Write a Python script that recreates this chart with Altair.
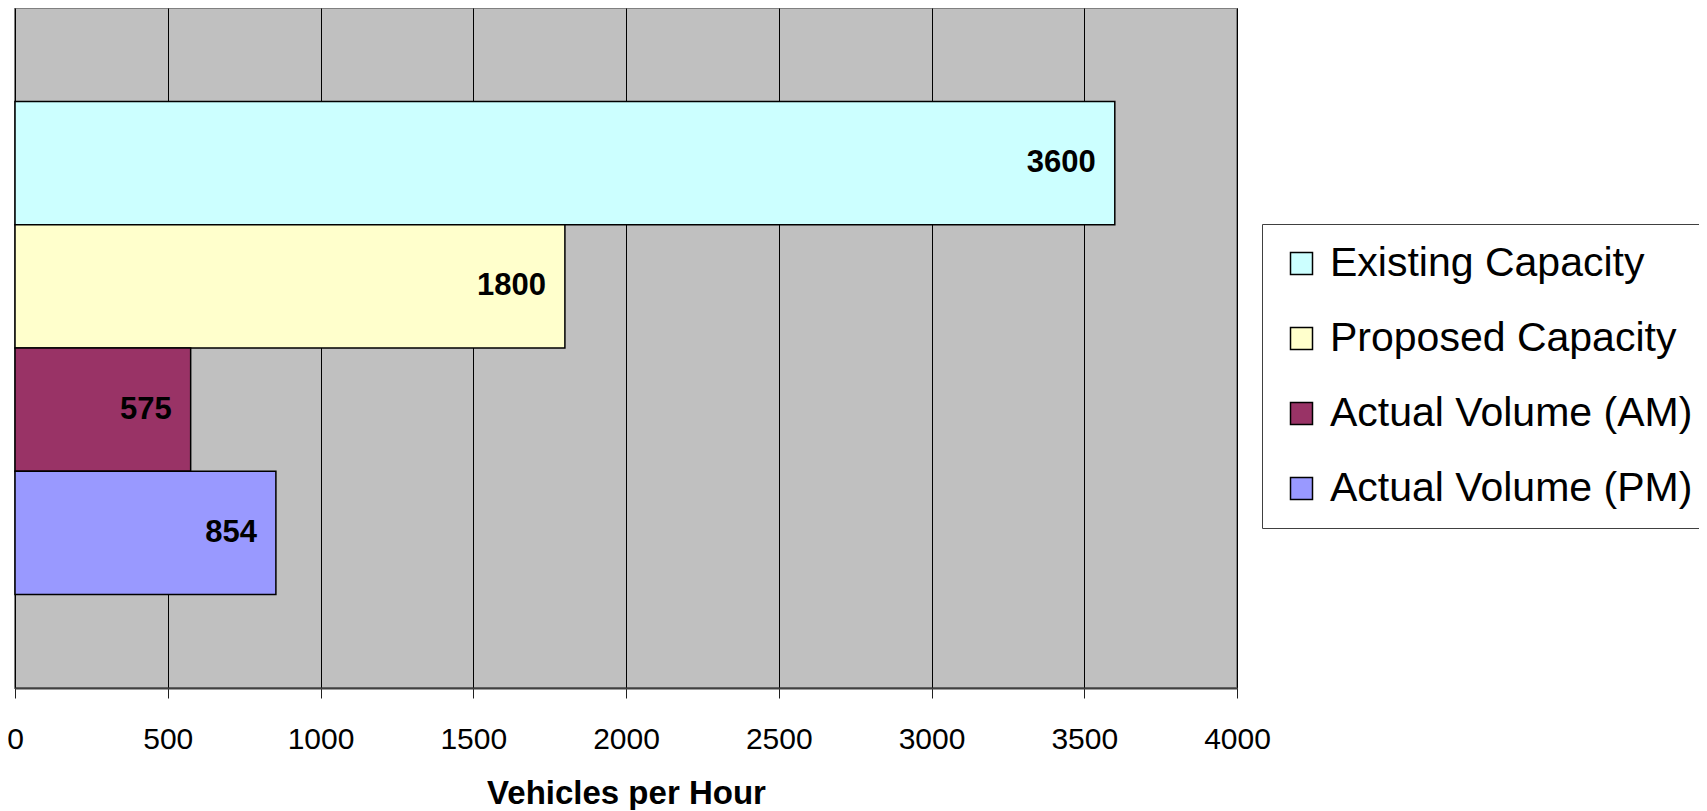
import altair as alt
import pandas as pd

series = ["Existing Capacity", "Proposed Capacity", "Actual Volume (AM)", "Actual Volume (PM)"]
values = [3600, 1800, 575, 854]
colors = ["#CCFFFF", "#FFFFCC", "#993366", "#9999FF"]
x_ticks = [0, 500, 1000, 1500, 2000, 2500, 3000, 3500, 4000]

df = pd.DataFrame({"series": series, "value": values})

FONT = "Liberation Sans"

y_enc = alt.Y("series:N", sort=series, axis=None,
              scale=alt.Scale(domain=series, paddingInner=0, paddingOuter=0.76))

bars = alt.Chart(df).mark_bar(stroke="black", strokeWidth=1.5).encode(
    y=y_enc,
    x=alt.X("value:Q",
            scale=alt.Scale(domain=[0, 4000], nice=False),
            axis=alt.Axis(values=x_ticks, title="Vehicles per Hour", format="d",
                          labelFont=FONT, labelFontSize=30, labelColor="black",
                          labelPadding=26, tickSize=10, tickColor="#202020", tickWidth=1,
                          domainColor="#404040", domainWidth=2,
                          grid=True, gridColor="black", gridWidth=1, gridOpacity=1,
                          titleFont=FONT, titleFontSize=33, titleFontWeight="bold",
                          titleColor="black", titlePadding=23, labelFlush=False)),
    color=alt.Color("series:N", sort=series,
                    scale=alt.Scale(domain=series, range=colors),
                    legend=alt.Legend(title=None, orient="none", legendX=1247, legendY=216,
                                      symbolType="square", symbolSize=484,
                                      symbolStrokeColor="black", symbolStrokeWidth=1.5,
                                      symbolOpacity=1,
                                      labelFont=FONT, labelFontSize=41, labelColor="black",
                                      labelOffset=8, labelLimit=1000, rowPadding=33,
                                      padding=19, strokeColor="#404040", fillColor="white")),
)

labels = alt.Chart(df).mark_text(align="right", baseline="middle", dx=-19,
                                 fontSize=31, fontWeight="bold", font=FONT,
                                 color="black").encode(
    y=y_enc,
    x=alt.X("value:Q"),
    text=alt.Text("value:Q", format="d"),
)

chart = alt.layer(bars, labels).properties(
    width=1222, height=680,
    padding={"left": 7, "top": 0, "right": 462, "bottom": 122},
    autosize=alt.AutoSizeParams(type="none"),
    background="white",
).configure_view(
    fill="#C0C0C0", stroke="#808080", strokeWidth=2
)

chart.save("out.html", embed_options={"renderer": "svg", "actions": False})
